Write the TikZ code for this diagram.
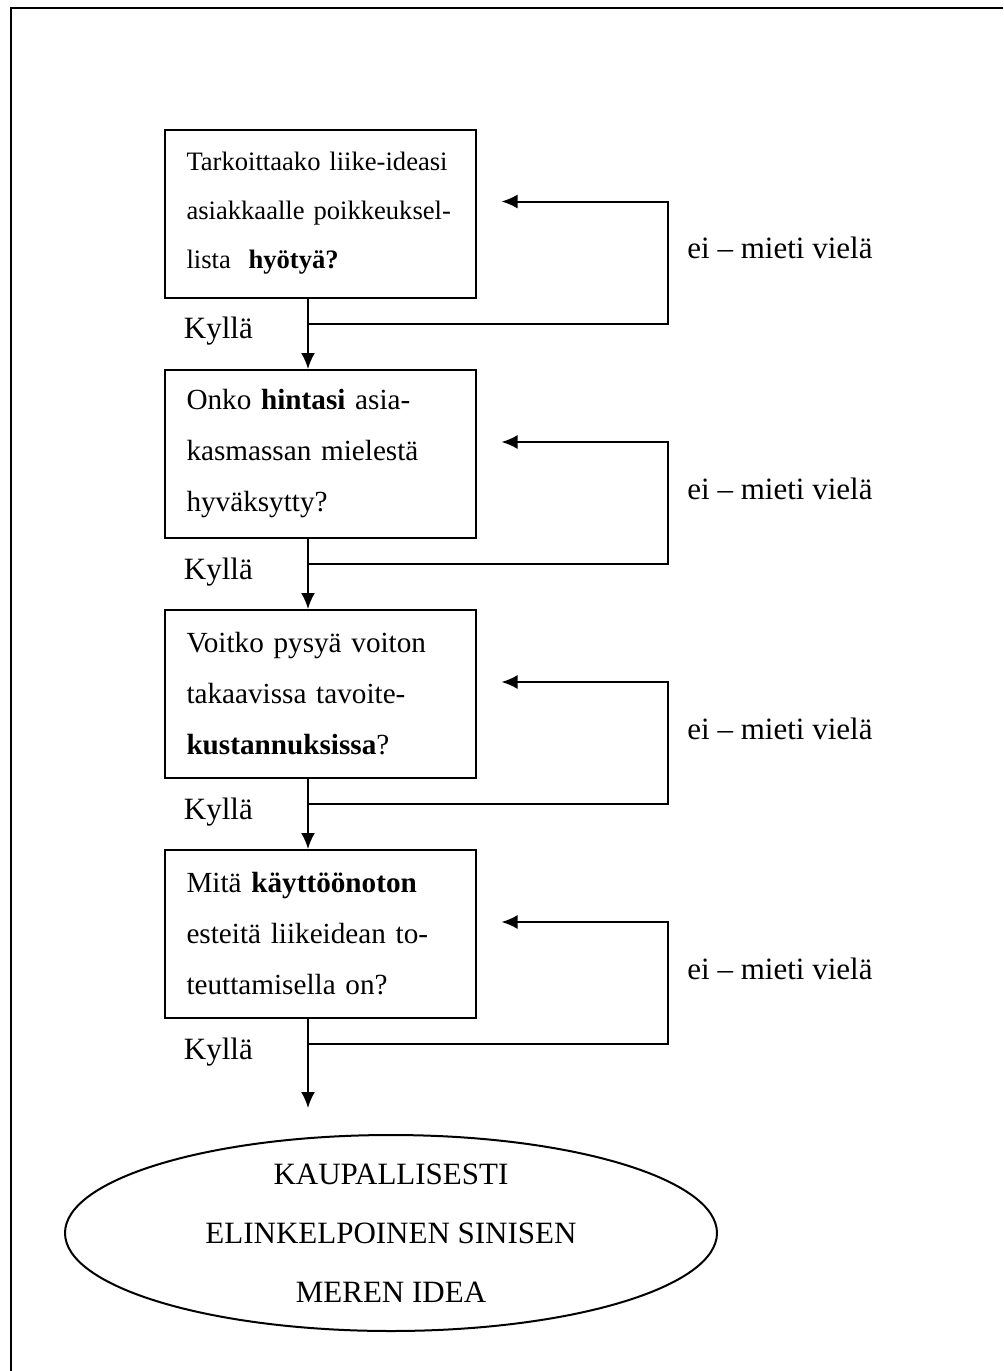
\documentclass[tikz,border=0pt]{standalone}
\usepackage{fontspec}
\setmainfont{Liberation Serif}
\usetikzlibrary{arrows.meta,calc,shapes.geometric}
\tikzset{
  qbox/.style={draw,line width=1pt,rectangle,minimum width=155.5pt,minimum height=84pt,
    text width=133.5pt,inner xsep=11pt,inner ysep=0pt,align=left,
    font=\fontsize{14.6}{25.5}\selectfont},
  lbl/.style={inner sep=0pt,anchor=base west,font=\fontsize{15.5}{18}\selectfont},
  goalnode/.style={draw,ellipse,line width=1pt,minimum width=326pt,minimum height=96pt,
    inner sep=0pt,align=center,font=\fontsize{15.5}{29.5}\selectfont},
  arr/.style={line width=1pt,-{Latex[length=8pt,width=7pt]}}
}

\begin{document}
\begin{tikzpicture}[x=0.5pt,y=-0.5pt]
  \useasboundingbox (0,0) rectangle (1003,1371);
  \draw[line width=1pt] (1003,7.5) -| (11,1371);
  \coordinate (stem) at (308,0);
  \coordinate (back) at (668,0);
  \node[qbox,font=\fontsize{13.3}{24.5}\selectfont] (b1) at (320,213.5)
    {Tarkoittaako liike-ideasi\\ asiakkaalle poikkeuksel-\\ lista\ \ \textbf{hyötyä?}};
  \node[qbox] (b2) at (320,454)
    {Onko \textbf{hintasi} asia-\\ kasmassan mielestä\\ hyväksytty?};
  \node[qbox] (b3) at (320,694)
    {Voitko pysyä voiton\\ takaavissa tavoite-\\ \textbf{kustannuksissa}?};
  \node[qbox] (b4) at (320,934)
    {Mitä \textbf{käyttöönoton}\\ esteitä liikeidean to-\\ teuttamisella on?};
  \node[goalnode] (goal) at (391,1233)
    {KAUPALLISESTI\\ ELINKELPOINEN SINISEN\\ MEREN IDEA};
  \foreach \i in {1,...,4}{
    \coordinate (turn\i) at ($(b\i.south -| back)+(0,25)$);
    \draw[arr] (turn\i -| stem) -- (turn\i) |- ($(b\i.east)+(25,-12)$);
    \node[lbl] at ($(turn\i -| b\i.west)+(20,15)$) {Kyllä};
    \node[lbl] at ($(turn\i)+(19,-65)$) {ei -- mieti vielä};
  }
  \draw[arr] (b1.south -| stem) -- (b2.north -| stem);
  \draw[arr] (b2.south -| stem) -- (b3.north -| stem);
  \draw[arr] (b3.south -| stem) -- (b4.north -| stem);
  \draw[arr] (b4.south -| stem) -- ($(goal.north -| stem)+(0,-26)$);
\end{tikzpicture}
\end{document}
